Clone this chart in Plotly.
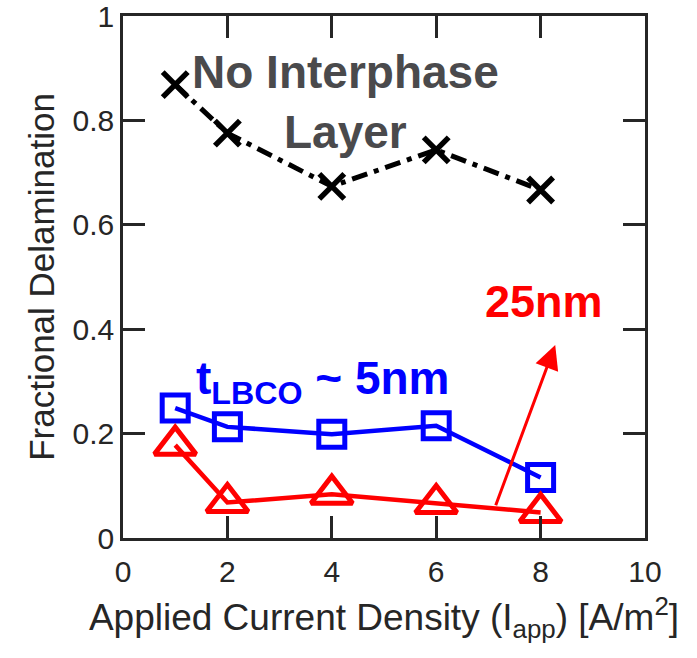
import plotly.graph_objects as go

x_vals = [1, 2, 4, 6, 8]
no_interphase = [0.869, 0.776, 0.674, 0.744, 0.667]
lbco_5nm = [0.249, 0.213, 0.199, 0.215, 0.116]
lbco_25nm = [0.178, 0.068, 0.084, 0.066, 0.049]

x_ticks = [0, 2, 4, 6, 8, 10]
y_ticks = [0, 0.2, 0.4, 0.6, 0.8, 1]
y_tick_text = ["0", "0.2", "0.4", "0.6", "0.8", "1"]

FONT = "Liberation Sans, Arial, Helvetica, sans-serif"

fig = go.Figure()
fig.add_trace(go.Scatter(
    x=x_vals, y=no_interphase, mode="lines+markers",
    line=dict(color="black", width=5, dash="16px,7px,5px,7px"),
    marker=dict(symbol="x-thin", size=25, line=dict(color="black", width=5.5)),
    showlegend=False))
fig.add_trace(go.Scatter(
    x=x_vals, y=lbco_5nm, mode="lines+markers",
    line=dict(color="#0000ff", width=4.5),
    marker=dict(symbol="square-open", size=26, color="#0000ff", line=dict(width=5)),
    showlegend=False))
fig.add_trace(go.Scatter(
    x=x_vals, y=lbco_25nm, mode="lines+markers",
    line=dict(color="#ff0000", width=4.5),
    marker=dict(symbol="triangle-up-open", size=36, color="#ff0000", line=dict(width=5)),
    showlegend=False))

fig.add_annotation(x=4.27, y=0.835, xref="x", yref="y",
                   text="<b>No Interphase<br>Layer</b>", showarrow=False,
                   font=dict(family=FONT, size=46, color="#4a4a4c"),
                   xanchor="center", yanchor="middle")
fig.add_annotation(x=3.84, y=0.30, xref="x", yref="y",
                   text="<b>t<sub>LBCO</sub> ~ 5nm</b>", showarrow=False,
                   font=dict(family=FONT, size=46, color="#0000ff"),
                   xanchor="center", yanchor="middle")
fig.add_annotation(x=8.06, y=0.4525, xref="x", yref="y",
                   text="<b>25nm</b>", showarrow=False,
                   font=dict(family=FONT, size=45, color="#ff0000"),
                   xanchor="center", yanchor="middle")
fig.add_annotation(x=8.28, y=0.37, ax=7.13, ay=0.06, xref="x", yref="y",
                   axref="x", ayref="y", text="", showarrow=True,
                   arrowhead=2, arrowsize=1.6, arrowwidth=3, arrowcolor="#ff0000")

fig.update_layout(
    width=697, height=658,
    margin=dict(l=123, r=52, t=16, b=120),
    paper_bgcolor="white", plot_bgcolor="white",
    font=dict(family=FONT, color="#262626"),
)
fig.update_xaxes(
    range=[0, 10], tickvals=x_ticks, ticks="inside", ticklen=22, tickwidth=2.5,
    tickcolor="#262626", showline=True, linewidth=2.5, linecolor="#262626",
    mirror="ticks", showgrid=False, zeroline=False, ticklabelstandoff=5,
    tickfont=dict(size=30, color="#262626"), ticklabeloverflow="allow",
    automargin=False,
    title=dict(text="Applied Current Density (I<sub>app</sub>) [A/m<sup>2</sup>]",
               font=dict(size=37, color="#262626"), standoff=18))
fig.update_yaxes(
    range=[0, 1.0005], tickvals=y_ticks, ticktext=y_tick_text, ticks="inside",
    ticklen=22, tickwidth=2.5, tickcolor="#262626", showline=True,
    linewidth=2.5, linecolor="#262626", mirror="ticks", showgrid=False,
    zeroline=False, tickfont=dict(size=30, color="#262626"),
    ticklabeloverflow="allow", automargin=False,
    title=dict(text="Fractional Delamination", font=dict(size=35, color="#262626"),
               standoff=8))

fig.write_html("out.html")
